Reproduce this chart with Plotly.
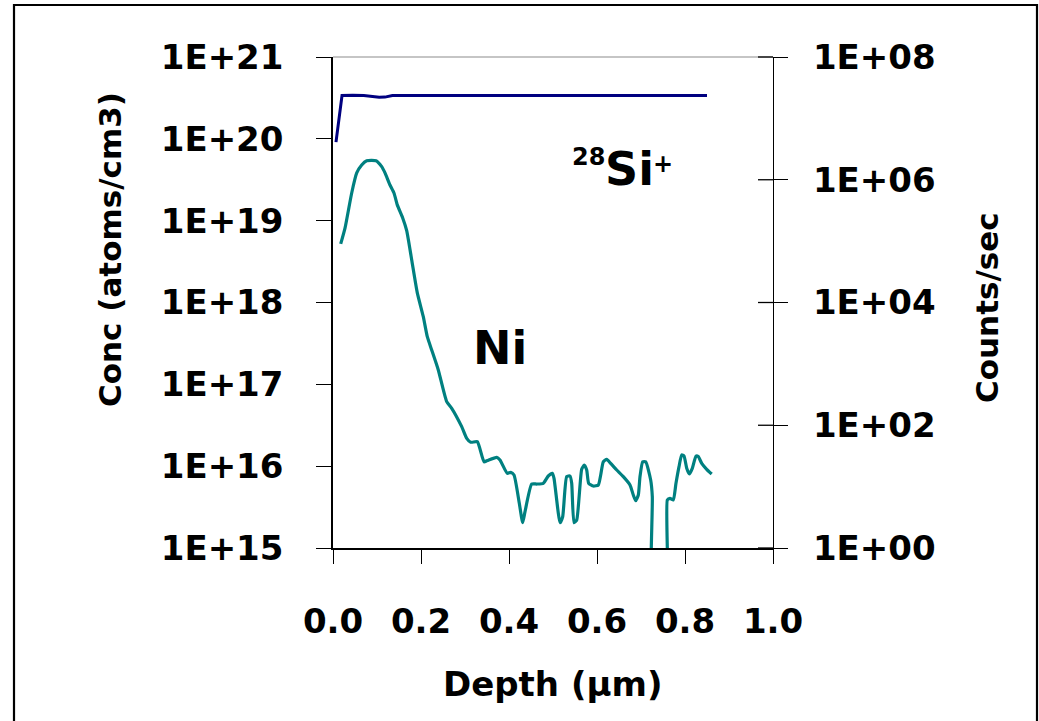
import math
import plotly.graph_objects as go

# Depth profile data (depth in µm)
si_depth = [0.0068, 0.0205, 0.045, 0.07, 0.095, 0.105, 0.118, 0.135, 0.30, 0.50, 0.70, 0.85]
si_counts = [4.1e6, 2.36e7, 2.38e7, 2.36e7, 2.25e7, 2.2e7, 2.22e7, 2.36e7, 2.36e7, 2.36e7, 2.36e7, 2.36e7]

ni_depth = [0.0175, 0.0273, 0.0425, 0.0539, 0.0652, 0.0766, 0.0977, 0.1107, 0.1182, 0.1295,
            0.1386, 0.1461, 0.1584, 0.1675, 0.1789, 0.1916, 0.2052, 0.2143, 0.2243, 0.2393,
            0.2584, 0.2698, 0.2925, 0.3039, 0.3130, 0.3280, 0.3432, 0.3507, 0.3720, 0.3795,
            0.3961, 0.4039, 0.4114, 0.4234, 0.4311, 0.4364, 0.4516, 0.4630, 0.4780, 0.4893,
            0.4984, 0.5023, 0.5159, 0.5220, 0.5311, 0.5386, 0.5425, 0.5477, 0.5539, 0.5652,
            0.5711, 0.5766, 0.5811, 0.5916, 0.6030, 0.6084, 0.6143, 0.6220, 0.6311, 0.6448,
            0.6598, 0.6750, 0.6825, 0.6880, 0.6939, 0.6977, 0.7039, 0.7107, 0.7220, 0.7257,
            0.7273, 0.7568, 0.7598, 0.7659, 0.7734, 0.7795, 0.7864, 0.7925, 0.7977, 0.8039,
            0.8098, 0.8166, 0.8250, 0.8302, 0.8380, 0.8493, 0.8607]
ni_conc = [5.2e18, 8.1e18, 2.18e19, 3.83e19, 4.79e19, 5.41e19, 5.41e19, 4.57e19, 3.83e19, 2.73e19,
           2.18e19, 1.56e19, 1.08e19, 7.55e18, 3.31e18, 1.31e18, 6.71e17, 3.82e17, 2.63e17, 1.50e17,
           6.14e16, 5.10e16, 3.04e16, 2.19e16, 1.96e16, 1.99e16, 1.13e16, 1.17e16, 1.28e16, 1.19e16,
           8.18e15, 8.41e15, 7.80e15, 3.52e15, 2.04e15, 2.78e15, 6.05e15, 6.05e15, 6.18e15, 7.58e15,
           8.18e15, 7.11e15, 2.04e15, 2.41e15, 7.44e15, 7.58e15, 6.18e15, 2.04e15, 2.20e15, 9.16e15,
           1.03e16, 8.98e15, 6.18e15, 5.72e15, 5.89e15, 7.80e15, 1.13e16, 1.21e16, 1.08e16, 8.98e15,
           7.44e15, 5.89e15, 4.44e15, 3.78e15, 4.44e15, 7.44e15, 1.13e16, 1.13e16, 6.78e15, 4.24e15,
           1.0e14, 1.0e14, 3.86e15, 4.05e15, 3.86e15, 6.18e15, 9.86e15, 1.37e16, 1.33e16, 9.42e15,
           8.02e15, 9.42e15, 1.33e16, 1.31e16, 1.08e16, 9.16e15, 8.02e15]

x_ticks = [0.0, 0.2, 0.4, 0.6, 0.8, 1.0]
x_ticktext = ["0.0", "0.2", "0.4", "0.6", "0.8", "1.0"]
conc_ticks = [1e15, 1e16, 1e17, 1e18, 1e19, 1e20, 1e21]
conc_ticktext = ["1E+15", "1E+16", "1E+17", "1E+18", "1E+19", "1E+20", "1E+21"]
count_ticks = [1e0, 1e2, 1e4, 1e6, 1e8]
count_ticktext = ["1E+00", "1E+02", "1E+04", "1E+06", "1E+08"]

FONT = "DejaVu Sans"
W, H = 1039, 721
L, R, T, B = 333, 266, 57, 173
PW, PH = W - L - R, H - T - B


def px(xp):
    return (xp - L) / PW


def py(yp):
    return (H - B - yp) / PH


fig = go.Figure()

fig.add_trace(go.Scatter(x=ni_depth, y=ni_conc, mode="lines", yaxis="y",
                         line=dict(color="#008080", width=3.2, shape="spline", smoothing=0.5),
                         name="Ni"))
fig.add_trace(go.Scatter(x=si_depth, y=si_counts, mode="lines", yaxis="y2",
                         line=dict(color="#000080", width=3.0), name="28Si+"))

shapes = []
# light top border of the plot area
shapes.append(dict(type="line", xref="paper", yref="paper", x0=0, x1=1, y0=1, y1=1,
                   line=dict(color="#8c8c8c", width=1.2), layer="below"))
# inward halves of the right-axis cross ticks
for v in count_ticks:
    yy = math.log10(v) / 8
    shapes.append(dict(type="line", xref="paper", yref="paper", x0=1 - 15 / PW, x1=1,
                       y0=yy, y1=yy, line=dict(color="black", width=1.3)))
# outer frame of the chart
shapes.append(dict(type="rect", xref="paper", yref="paper",
                   x0=px(14), x1=px(1037), y0=py(740), y1=py(5),
                   line=dict(color="black", width=2.2), fillcolor="rgba(0,0,0,0)"))

big = dict(family=FONT, size=46, color="black", weight="bold")
small = dict(family=FONT, size=24, color="black", weight="bold")
title_font = dict(family=FONT, size=31, color="black", weight="bold")

annotations = [
    dict(text="Ni", x=px(500), y=py(348), xref="paper", yref="paper",
         showarrow=False, font=big, xanchor="center", yanchor="middle"),
    dict(text="Si", x=px(603), y=py(168.5), xref="paper", yref="paper",
         showarrow=False, font=big, xanchor="left", yanchor="middle"),
    dict(text="28", x=px(607), y=py(157), xref="paper", yref="paper",
         showarrow=False, font=small, xanchor="right", yanchor="middle"),
    dict(text="+", x=px(651), y=py(164), xref="paper", yref="paper",
         showarrow=False, font=small, xanchor="left", yanchor="middle"),
    dict(text="Conc (atoms/cm3)", x=px(110), y=py(250), xref="paper", yref="paper",
         showarrow=False, font=title_font, textangle=-90, xanchor="center", yanchor="middle"),
    dict(text="Counts/sec", x=px(987), y=py(308), xref="paper", yref="paper",
         showarrow=False, font=title_font, textangle=-90, xanchor="center", yanchor="middle"),
    dict(text="Depth (µm)", x=px(552), y=py(684), xref="paper", yref="paper",
         showarrow=False, font=dict(family=FONT, size=34, color="black", weight="bold"),
         xanchor="center", yanchor="middle"),
]

tick_font = dict(family=FONT, size=34, color="black", weight="bold")

fig.update_layout(
    width=W, height=H, autosize=False,
    margin=dict(l=L, r=R, t=T, b=B, pad=0),
    paper_bgcolor="white", plot_bgcolor="white",
    showlegend=False,
    font=dict(family=FONT, color="black"),
    xaxis=dict(range=[0, 1], tickvals=x_ticks, ticktext=x_ticktext,
               showgrid=False, zeroline=False, showline=True, linecolor="black", linewidth=1.5,
               ticks="outside", ticklen=14, tickwidth=1.3, tickcolor="black",
               tickfont=tick_font, ticklabelstandoff=28),
    yaxis=dict(type="log", range=[15, 21], tickvals=conc_ticks, ticktext=conc_ticktext,
               showgrid=False, zeroline=False, showline=True, linecolor="black", linewidth=1.5,
               ticks="outside", ticklen=15, tickwidth=1.3, tickcolor="black",
               tickfont=tick_font, ticklabelstandoff=26),
    yaxis2=dict(type="log", range=[0, 8], tickvals=count_ticks, ticktext=count_ticktext,
                overlaying="y", side="right", anchor="x",
                showgrid=False, zeroline=False, showline=True, linecolor="black", linewidth=1.3,
                ticks="outside", ticklen=14, tickwidth=1.3, tickcolor="black",
                tickfont=tick_font, ticklabelstandoff=18),
    shapes=shapes,
    annotations=annotations,
)

fig.write_html("out.html")
